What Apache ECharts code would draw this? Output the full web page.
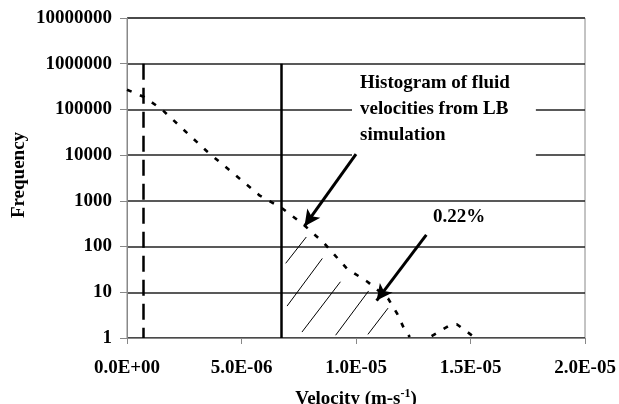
<!DOCTYPE html>
<html>
<head>
<meta charset="utf-8">
<script src="https://cdn.jsdelivr.net/npm/echarts@6/dist/echarts.min.js"></script>
<style>
    html, body { margin: 0; padding: 0; background: #fff; }
    #main { width: 619px; height: 404px; }
</style>
</head>
<body>
<div id="main"></div>
<script>
    // histogram of fluid velocities
    var velocity = [0, 0.75e-6, 1.5e-6, 3.5e-6, 5.8e-6, 6.75e-6, 7.65e-6, 8.6e-6, 9.6e-6, 10.5e-6,
        11.4e-6, 11.8e-6, 12.1e-6, 12.35e-6, 12.8e-6, 13.3e-6, 14.1e-6, 14.4e-6, 15.0e-6, 15.2e-6];
    var frequency = [270000, 187000, 102000, 12000, 1300, 700, 320, 120, 33, 17,
        7.3, 3.4, 1.6, 1.05, null, 1.1, 1.9, 2.0, 1.2, 1.0];

    var xTicks = [0, 5e-6, 1e-5, 1.5e-5, 2e-5];
    var yTicks = [1, 10, 100, 1000, 10000, 100000, 1000000, 10000000];

    // vertical cut-off lines
    var dashedLineX = 0.7e-6;
    var solidLineX = 6.75e-6;
    var cutLineTop = 1000000;

    // hatched area under the tail (segment ends, data units)
    var hatchStart = [[6.93e-6, 43], [6.99e-6, 5.0], [7.64e-6, 1.35], [9.11e-6, 1.15], [10.52e-6, 1.2]];
    var hatchEnd = [[7.83e-6, 162], [8.53e-6, 55], [9.32e-6, 17], [10.55e-6, 10.7], [11.4e-6, 4.5]];

    // arrows: from the labels to the curve
    var arrowStart = [[1.0e-5, 10500], [1.307e-5, 180]];
    var arrowEnd = [[7.75e-6, 280], [10.9e-6, 6.6]];

    var font = 'Liberation Serif';

    function sci(v) {
        if (Math.abs(v) < 1e-12) return '0.0E+00';
        var e = Math.floor(Math.log10(Math.abs(v)) + 1e-9);
        var m = v / Math.pow(10, e);
        var es = (e < 0 ? '-' : '+') + (Math.abs(e) < 10 ? '0' : '') + Math.abs(e);
        return m.toFixed(1) + 'E' + es;
    }

    var curve = velocity.map(function (v, i) {
        return [v, frequency[i]];
    });

    var markLines = [];
    markLines.push([
        {coord: [dashedLineX, cutLineTop], lineStyle: {type: [16, 8], width: 2.5, color: '#000'}},
        {coord: [dashedLineX, yTicks[0]]}
    ]);
    markLines.push([
        {coord: [solidLineX, cutLineTop], lineStyle: {type: 'solid', width: 2.5, color: '#000'}},
        {coord: [solidLineX, yTicks[0]]}
    ]);
    hatchStart.forEach(function (p, i) {
        markLines.push([
            {coord: p, lineStyle: {type: 'solid', width: 1, color: '#000'}},
            {coord: hatchEnd[i]}
        ]);
    });
    arrowStart.forEach(function (p, i) {
        markLines.push([
            {coord: p, symbol: 'none', lineStyle: {type: 'solid', width: 3, color: '#000'}},
            {coord: arrowEnd[i], symbol: 'arrow', symbolSize: [12, 16]}
        ]);
    });

    var myChart = echarts.init(document.getElementById('main'));
    myChart.setOption({
        animation: false,
        backgroundColor: '#fff',
        grid: {
            left: 127, right: 34, top: 18, bottom: 66,
            containLabel: false, outerBoundsMode: 'none',
            show: true, borderColor: '#888', borderWidth: 1
        },
        xAxis: {
            type: 'value',
            min: xTicks[0],
            max: xTicks[xTicks.length - 1],
            interval: xTicks[1] - xTicks[0],
            splitLine: {show: false},
            axisLine: {lineStyle: {color: '#888', width: 1}},
            axisTick: {length: 6, lineStyle: {color: '#888'}},
            axisLabel: {
                formatter: sci, margin: 20, color: '#000',
                fontFamily: font, fontWeight: 'bold', fontSize: 19, lineHeight: 20
            },
            name: 'Velocity (m-s{sup|-1})',
            nameLocation: 'middle',
            nameGap: 50,
            nameTextStyle: {
                color: '#000', fontFamily: font, fontWeight: 'bold', fontSize: 19,
                rich: {
                    sup: {fontFamily: font, fontWeight: 'bold', fontSize: 12, padding: [0, 0, 10, 0]}
                }
            }
        },
        yAxis: {
            type: 'log',
            logBase: 10,
            min: yTicks[0],
            max: yTicks[yTicks.length - 1],
            splitLine: {show: true, lineStyle: {color: '#222', width: 1.6}},
            axisLine: {show: true, lineStyle: {color: '#888', width: 1}},
            axisTick: {show: true, length: 7, lineStyle: {color: '#888'}},
            minorTick: {show: false},
            axisLabel: {
                formatter: function (v) { return String(Math.round(v)); },
                margin: 15, color: '#000',
                fontFamily: font, fontWeight: 'bold', fontSize: 19
            }
        },
        series: [{
            type: 'line',
            data: curve,
            showSymbol: false,
            connectNulls: false,
            lineStyle: {color: '#000', width: 2.6, type: [5, 9]},
            z: 3,
            markLine: {
                silent: true,
                symbol: 'none',
                label: {show: false},
                data: markLines,
                z: 4
            }
        }],
        graphic: [
            {
                type: 'text', x: 19, y: 175, rotation: Math.PI / 2,
                style: {
                    text: 'Frequency', fill: '#000',
                    font: 'bold 19px "Liberation Serif"',
                    align: 'center', verticalAlign: 'middle',
                    textAlign: 'center', textVerticalAlign: 'middle'
                }
            },
            {
                type: 'text', x: 352, y: 70, z: 1,
                style: {
                    text: 'Histogram of fluid\nvelocities from LB\nsimulation', fill: '#000',
                    font: 'bold 19px "Liberation Serif"', lineHeight: 26,
                    backgroundColor: '#fff', padding: [0, 26, 8, 8]
                }
            },
            {
                type: 'text', x: 433, y: 217, z: 1,
                style: {
                    text: '0.22%', fill: '#000',
                    font: 'bold 19px "Liberation Serif"',
                    verticalAlign: 'middle', textVerticalAlign: 'middle'
                }
            }
        ]
    });
</script>
</body>
</html>
